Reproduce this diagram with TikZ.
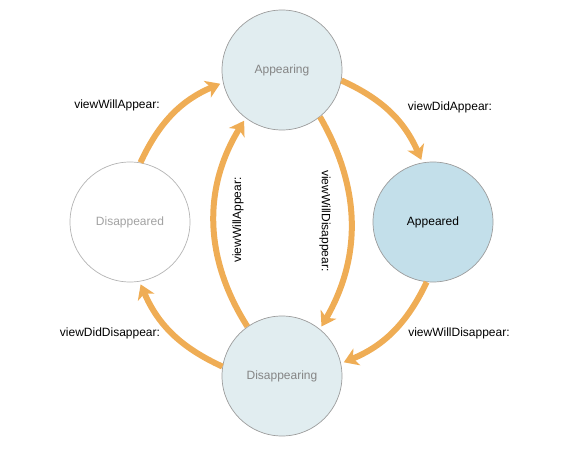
\documentclass[tikz,border=0pt]{standalone}
\usepackage{fontspec}
\setmainfont{Liberation Sans}
\usetikzlibrary{arrows.meta}
\definecolor{Flow}{HTML}{EFAD55}
\definecolor{Pale}{HTML}{E1EDF0}
\definecolor{Sky}{HTML}{C3DFEA}
\definecolor{Rim}{HTML}{9C9C9C}
\definecolor{RimLight}{HTML}{B4B4B4}
\definecolor{Faint}{HTML}{858585}
\definecolor{Fainter}{HTML}{A2A2A2}

\begin{document}
\begin{tikzpicture}[x=1pt,y=1pt,
  state/.style={circle,minimum size=120pt,inner sep=0pt,draw=Rim,line width=0.7pt,font=\fontsize{12}{14}\selectfont},
  flow/.style={draw=Flow,line width=6pt,shorten >=3pt,-{Stealth[length=14pt,width=18pt,inset=4pt]}},
  call/.style={font=\fontsize{12}{14}\selectfont,inner sep=0pt}]
\path[use as bounding box] (0,0) rectangle (584,448);

% states
\node[state,fill=Pale,text=Faint] (appearing) at (282,378) {Appearing};
\node[state,fill=Sky,text=black] (appeared) at (433,226) {Appeared};
\node[state,fill=Pale,text=Faint] (disappearing) at (282,72) {Disappearing};
\node[state,fill=white,draw=RimLight,text=Fainter] (disappeared) at (130,226) {Disappeared};

% outer ring
\draw[flow] (disappeared.80) to[bend left=21] (appearing.192);
\draw[flow] (appearing.350) to[bend left=21] (appeared.100);
\draw[flow] (appeared.264) to[bend left=21] (disappearing.12);
\draw[flow] (disappearing.171) to[bend left=21] (disappeared.279);

% inner pair
\draw[flow] (disappearing.125) to[bend left=32] (appearing.233);
\draw[flow] (appearing.309) to[bend left=30] (disappearing.51);

% method names
\node[call] (willAppear) at (117,343) {viewWillAppear:};
\node[call] (didAppear) at (450,341) {viewDidAppear:};
\node[call] (willDisappear) at (459,115) {viewWillDisappear:};
\node[call] (didDisappear) at (110,115) {viewDidDisappear:};
\node[call,rotate=90] (willAppearIn) at (238,228) {viewWillAppear:};
\node[call,rotate=-90] (willDisappearIn) at (325,227) {viewWillDisappear:};
\end{tikzpicture}
\end{document}
